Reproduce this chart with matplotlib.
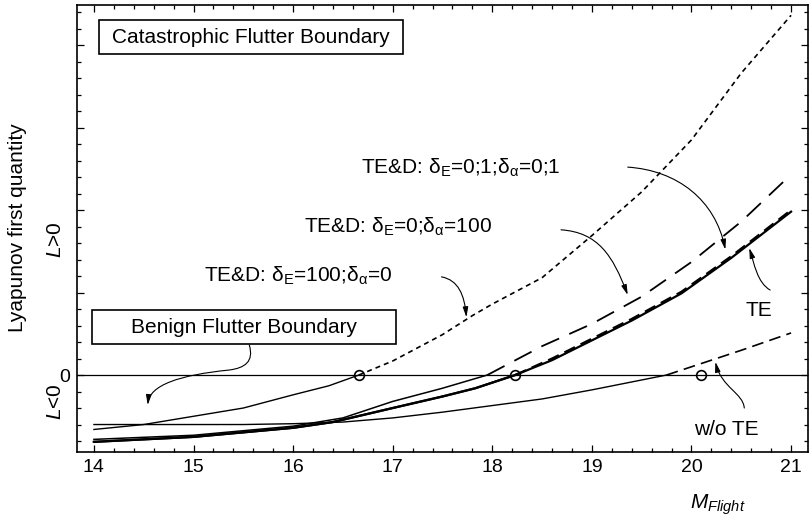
import numpy as np
import matplotlib
matplotlib.use("Agg")
import matplotlib.pyplot as plt
from matplotlib.patches import FancyArrowPatch, Rectangle
from matplotlib.path import Path
from matplotlib.ticker import MultipleLocator, FuncFormatter

plt.rcParams['font.family'] = ['Liberation Sans', 'DejaVu Sans']
plt.rcParams['mathtext.fontset'] = 'custom'
plt.rcParams['mathtext.rm'] = 'Liberation Sans'
plt.rcParams['mathtext.it'] = 'Liberation Sans:italic'
plt.rcParams['mathtext.sf'] = 'Liberation Sans'
plt.rcParams['lines.scale_dashes'] = False

# Lyapunov first quantity L vs flight Mach number
# without tip extension
m_wo_te = [14.0, 14.5, 15.0, 15.5, 16.0, 16.5, 17.0, 17.5, 18.0, 18.5, 19.0, 19.5, 19.75, 20.0, 20.5, 21.0]
l_wo_te = [-0.60, -0.60, -0.60, -0.60, -0.59, -0.57, -0.52, -0.45, -0.37, -0.29, -0.18, -0.06, 0.0, 0.10, 0.30, 0.51]

# tip extension (TE)
m_te = [14.0, 15.0, 16.0, 16.4, 17.0, 17.5, 17.83, 18.23, 18.6, 19.0, 19.4, 19.9, 20.4, 21.0]
l_te = [-0.81, -0.75, -0.64, -0.57, -0.40, -0.26, -0.16, 0.0, 0.18, 0.42, 0.66, 0.99, 1.42, 1.98]

# TE & damper, dE=0.1, da=0.1
m_te_d01 = [14.0, 15.0, 16.0, 16.4, 17.0, 17.5, 17.83, 18.23, 18.6, 19.0, 19.4, 19.9, 20.4, 21.0]
l_te_d01 = [-0.81, -0.75, -0.64, -0.57, -0.40, -0.26, -0.16, 0.0, 0.20, 0.44, 0.68, 1.01, 1.44, 2.00]

# TE & damper, dE=0, da=100
m_te_da100 = [14.0, 15.0, 16.0, 16.5, 17.0, 17.5, 17.95, 18.5, 19.0, 19.5, 20.0, 20.5, 21.0]
l_te_da100 = [-0.78, -0.73, -0.62, -0.52, -0.32, -0.16, 0.0, 0.35, 0.62, 0.95, 1.37, 1.86, 2.43]

# TE & damper, dE=100, da=0
m_te_de100 = [14.0, 14.5, 15.0, 15.5, 16.0, 16.36, 16.66, 17.0, 17.5, 17.8, 18.0, 18.5, 19.0, 19.5, 20.0, 20.5, 21.0]
l_te_de100 = [-0.66, -0.60, -0.50, -0.40, -0.24, -0.13, 0.0, 0.17, 0.49, 0.72, 0.86, 1.18, 1.69, 2.22, 2.85, 3.66, 4.36]

# flutter onset points on L = 0
hopf_m = [16.66, 18.23, 20.1]
hopf_l = [0.0, 0.0, 0.0]


def branches(m, l):
    m = np.asarray(m)
    l = np.asarray(l)
    return (m[l <= 0], l[l <= 0]), (m[l >= 0], l[l >= 0])


fig = plt.figure(figsize=(8.1, 5.2), dpi=100)
ax = fig.add_axes([77 / 810, 1 - 452 / 520, 731 / 810, 447 / 520])

ax.axhline(0, color='black', lw=0.9, zorder=1)

short_dash = (0, (3.6, 2.9))
mid_dash = (0, (8.5, 4.5))
long_dash = (0, (14, 8))

(neg, pos) = branches(m_wo_te, l_wo_te)
ax.plot(*neg, color='black', lw=1.0)
ax.plot(*pos, color='black', lw=1.2, linestyle=mid_dash)

(neg, pos) = branches(m_te_de100, l_te_de100)
ax.plot(*neg, color='black', lw=1.0)
ax.plot(*pos, color='black', lw=1.2, linestyle=short_dash)

(neg, pos) = branches(m_te_da100, l_te_da100)
ax.plot(*neg, color='black', lw=1.1)
ax.plot(*pos, color='black', lw=1.3, linestyle=long_dash)

(neg, pos) = branches(m_te_d01, l_te_d01)
ax.plot(*neg, color='black', lw=1.6)
ax.plot(*pos, color='black', lw=1.6, linestyle=mid_dash)

ax.plot(m_te, l_te, color='black', lw=1.6)

ax.plot(hopf_m, hopf_l, linestyle='none', marker='o', ms=7, mfc='none',
        mec='black', mew=1.2, zorder=5)

ax.set_xlim(13.83, 21.17)
ax.set_ylim(-0.933, 4.485)
ax.xaxis.set_major_locator(MultipleLocator(1))
ax.xaxis.set_minor_locator(MultipleLocator(0.2))
ax.yaxis.set_major_locator(MultipleLocator(1))
ax.yaxis.set_minor_locator(MultipleLocator(0.2))
ax.yaxis.set_major_formatter(FuncFormatter(lambda v, p: '0' if abs(v) < 1e-9 else ''))
ax.tick_params(which='both', direction='in', top=True, right=True, width=0.9)
ax.tick_params(which='major', length=5, labelsize=14, pad=5)
ax.tick_params(which='minor', length=3)
for s in ax.spines.values():
    s.set_linewidth(1.2)

# axis labels
fig.text(17.5 / 810, 1 - 228 / 520, 'Lyapunov first quantity', rotation=90,
         ha='center', va='center', fontsize=15)
fig.text(718 / 810, 1 - 505 / 520, r'$M_{Flight}$', ha='center', va='center', fontsize=15)
ytr = ax.get_yaxis_transform()
ax.text(-0.030, 1.64, r'$L$>0', transform=ytr, rotation=90, ha='center', va='center', fontsize=15)
ax.text(-0.030, -0.105, r'$L$<0', transform=ytr, rotation=90, ha='center', va='top', fontsize=15)

# boxed region labels
ax.add_patch(Rectangle((14.05, 3.89), 3.05, 0.41, fill=False, lw=1.2, clip_on=False))
ax.text(15.575, 4.09, 'Catastrophic Flutter Boundary', ha='center', va='center', fontsize=15)
ax.add_patch(Rectangle((13.977, 0.376), 3.06, 0.412, facecolor='white', edgecolor='black',
                       lw=1.2, clip_on=False, zorder=4))
ax.text(15.51, 0.575, 'Benign Flutter Boundary', ha='center', va='center', fontsize=15, zorder=5)

# curve labels
ax.text(16.68, 2.44, r'TE&D: $\mathregular{\delta_E}$=0;1;$\mathregular{\delta_\alpha}$=0;1',
        ha='left', va='baseline', fontsize=15)
ax.text(16.11, 1.72, r'TE&D: $\mathregular{\delta_E}$=0;$\mathregular{\delta_\alpha}$=100',
        ha='left', va='baseline', fontsize=15)
ax.text(15.11, 1.13, r'TE&D: $\mathregular{\delta_E}$=100;$\mathregular{\delta_\alpha}$=0',
        ha='left', va='baseline', fontsize=15)
ax.text(20.54, 0.71, 'TE', ha='left', va='baseline', fontsize=15)
ax.text(20.03, -0.727, 'w/o TE', ha='left', va='baseline', fontsize=15)

# curved pointer arrows
C = Path.CURVE4
pointers = [
    ([(15.56, 0.364), (15.61, 0.158), (15.51, 0.085), (15.36, 0.061),
      (14.86, 0.0), (14.56, -0.121), (14.54, -0.364)],
     [Path.MOVETO, C, C, C, C, C, C]),
    ([(17.49, 1.19), (17.66, 1.15), (17.72, 0.97), (17.74, 0.70)],
     [Path.MOVETO, C, C, C]),
    ([(18.69, 1.76), (19.06, 1.73), (19.21, 1.45), (19.36, 0.97)],
     [Path.MOVETO, C, C, C]),
    ([(19.36, 2.52), (19.86, 2.48), (20.24, 2.12), (20.34, 1.52)],
     [Path.MOVETO, C, C, C]),
    ([(20.79, 1.03), (20.66, 1.12), (20.63, 1.35), (20.58, 1.54)],
     [Path.MOVETO, C, C, C]),
    ([(20.53, -0.40), (20.52, -0.22), (20.30, -0.15), (20.24, 0.16)],
     [Path.MOVETO, C, C, C]),
]
for verts, codes in pointers:
    arr = FancyArrowPatch(path=Path(verts, codes),
                          arrowstyle='-|>,head_length=0.6,head_width=0.16',
                          mutation_scale=10, lw=0.8, color='black', zorder=6)
    ax.add_patch(arr)

fig.savefig('out.png', dpi=100)
